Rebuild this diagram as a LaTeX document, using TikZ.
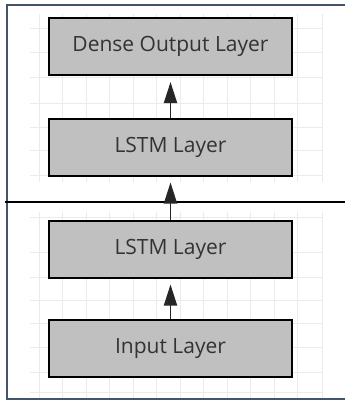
\documentclass[tikz,border=0pt]{standalone}
\usepackage{fontspec}
\setmainfont{Open Sans}
\usetikzlibrary{arrows.meta}
\definecolor{framec}{HTML}{44546A}
\definecolor{boxfill}{HTML}{C0C0C0}
\definecolor{txt}{HTML}{333333}
\definecolor{gridc}{HTML}{EBEBEB}
\tikzset{
  layer/.style={draw=black, line width=2pt, fill=boxfill, minimum width=243pt, minimum height=57pt,
    inner sep=0pt, text=txt, font=\fontsize{21}{23}\selectfont},
  flow/.style={line width=1.8pt, draw=black!85, -{Triangle[length=21pt,width=13pt]}, shorten >=6pt},
  gridline/.style={gridc, line width=0.8pt}
}
\begin{document}
\begin{tikzpicture}[x=1pt,y=-1pt]
\useasboundingbox (0,0) rectangle (345,405);
\fill[white] (0,0) rectangle (345,405);
% faint grid
\foreach \x in {39,62.5,86,109.5,133,156.5,180,203.5,227,250.5,274,297.5,322}{
  \draw[gridline] (\x,14) -- (\x,182);
  \draw[gridline] (\x,212) -- (\x,400);
}
\foreach \y in {28,52,77,103,127,150,175}{
  \draw[gridline] (30,\y) -- (323,\y);
}
\foreach \y in {217,252,277,300,323,347,372,392}{
  \draw[gridline] (30,\y) -- (323,\y);
}
% frame
\draw[framec, line width=2pt] (345,5) -- (7,5) -- (7,399) -- (345,399);
% separator
\draw[black, line width=2pt] (5,202) -- (345,202);
% layers
\node[layer] (dense) at (170.5,46.5) {Dense Output Layer};
\node[layer] (lstm2) at (170.5,147) {LSTM Layer};
\node[layer] (lstm1) at (170.5,249) {LSTM Layer};
\node[layer] (input) at (170.5,348.5) {Input Layer};
% connectors
\draw[flow] (input.north) -- (lstm1.south);
\draw[flow] (lstm1.north) -- (lstm2.south);
\draw[flow] (lstm2.north) -- (dense.south);
\end{tikzpicture}
\end{document}
